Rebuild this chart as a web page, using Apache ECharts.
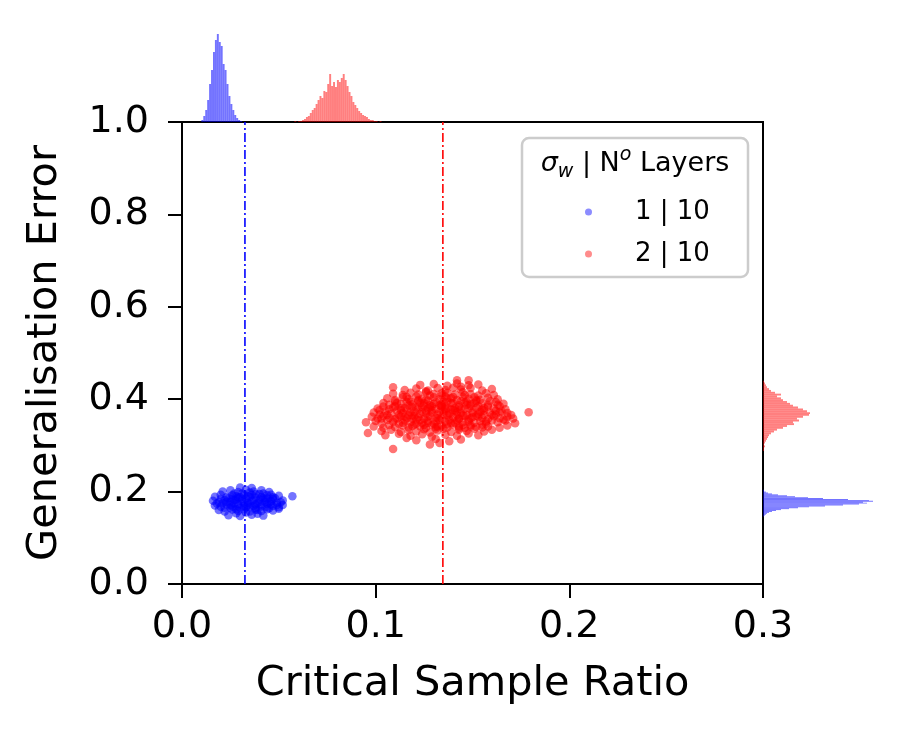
<!DOCTYPE html>
<html>
<head>
<meta charset="utf-8">
<script src="https://cdn.jsdelivr.net/npm/echarts@6/dist/echarts.min.js"></script>
<style>html,body{margin:0;padding:0;background:#fff}#c{width:909px;height:740px}</style>
</head>
<body>
<div id="c"></div>
<script>
// ---------- data ----------
const seriesNames = ['1 | 10', '2 | 10'];
const xTicks = [0.0, 0.1, 0.2, 0.3];
const yTicks = [0.0, 0.2, 0.4, 0.6, 0.8, 1.0];
const critLines = [0.0325, 0.1347];   // vertical dash-dot lines (blue, red)

const bluePts = [
[0.024,0.149],[0.030,0.147],[0.036,0.150],[0.042,0.148],[0.028,0.153],[0.039,0.152],
[0.019,0.160],[0.022,0.157],[0.026,0.161],[0.029,0.158],[0.032,0.162],[0.035,0.157],[0.038,0.161],[0.041,0.158],[0.044,0.162],[0.047,0.159],[0.050,0.163],
[0.017,0.170],[0.020,0.167],[0.023,0.172],[0.026,0.168],[0.029,0.173],[0.032,0.169],[0.035,0.166],[0.038,0.172],[0.041,0.168],[0.044,0.173],[0.047,0.169],[0.050,0.166],[0.052,0.171],
[0.016,0.180],[0.019,0.177],[0.022,0.182],[0.025,0.178],[0.028,0.183],[0.031,0.179],[0.034,0.176],[0.037,0.182],[0.040,0.178],[0.043,0.183],[0.046,0.179],[0.049,0.176],[0.052,0.181],
[0.017,0.189],[0.020,0.193],[0.023,0.188],[0.026,0.192],[0.029,0.187],[0.032,0.193],[0.035,0.189],[0.038,0.194],[0.041,0.188],[0.044,0.192],[0.047,0.188],[0.050,0.191],[0.057,0.190],
[0.021,0.200],[0.025,0.203],[0.029,0.199],[0.033,0.204],[0.037,0.200],[0.041,0.203],[0.045,0.199],
[0.030,0.209],[0.036,0.208],
[0.027,0.175],[0.033,0.185],[0.039,0.174],[0.030,0.165],[0.036,0.180],[0.042,0.186],[0.024,0.186],[0.045,0.176],[0.031,0.196],[0.038,0.165],
[0.034,0.171],[0.028,0.190],[0.040,0.195],[0.025,0.165],[0.047,0.184],[0.021,0.175],[0.033,0.155],[0.043,0.166],[0.035,0.198],[0.027,0.182],
[0.023,0.178],[0.026,0.185],[0.029,0.170],[0.031,0.184],[0.034,0.190],[0.037,0.169],[0.040,0.183],[0.043,0.178],[0.046,0.172],[0.048,0.186],
[0.022,0.165],[0.027,0.196],[0.032,0.176],[0.036,0.193],[0.039,0.160],[0.042,0.196],[0.045,0.164],[0.049,0.171],[0.020,0.184],[0.025,0.171],
[0.030,0.188],[0.035,0.174],[0.038,0.187],[0.041,0.172],[0.044,0.185],[0.033,0.166],[0.028,0.162],[0.046,0.193],[0.018,0.174],[0.051,0.177]
];

const redPts = [
[0.109,0.292],[0.128,0.302],[0.133,0.305],
[0.121,0.311],[0.138,0.309],[0.144,0.313],[0.116,0.316],[0.131,0.314],
[0.105,0.322],[0.112,0.325],[0.118,0.321],[0.124,0.324],[0.129,0.319],[0.136,0.323],[0.142,0.321],[0.148,0.326],[0.153,0.322],
[0.096,0.327],[0.103,0.331],[0.108,0.334],[0.113,0.329],[0.117,0.333],[0.121,0.330],[0.125,0.335],[0.128,0.328],[0.132,0.332],[0.135,0.336],[0.139,0.329],[0.143,0.334],[0.147,0.331],[0.151,0.336],[0.156,0.330],[0.160,0.334],
[0.099,0.341],[0.104,0.338],[0.107,0.344],[0.110,0.340],[0.114,0.343],[0.117,0.339],[0.120,0.345],[0.123,0.341],[0.126,0.338],[0.129,0.344],[0.131,0.340],[0.134,0.343],[0.137,0.339],[0.140,0.345],[0.143,0.341],[0.146,0.338],[0.149,0.344],[0.152,0.340],[0.155,0.345],[0.158,0.341],[0.164,0.338],[0.168,0.343],
[0.095,0.350],[0.100,0.353],[0.103,0.348],[0.106,0.355],[0.109,0.351],[0.112,0.347],[0.115,0.354],[0.118,0.350],[0.121,0.356],[0.124,0.349],[0.127,0.353],[0.130,0.347],[0.133,0.355],[0.136,0.351],[0.139,0.348],[0.142,0.354],[0.145,0.350],[0.148,0.356],[0.151,0.349],[0.154,0.353],[0.157,0.347],[0.160,0.354],[0.163,0.350],[0.166,0.356],[0.172,0.348],
[0.098,0.362],[0.101,0.358],[0.104,0.364],[0.107,0.360],[0.110,0.357],[0.113,0.363],[0.116,0.359],[0.119,0.365],[0.122,0.361],[0.125,0.357],[0.128,0.364],[0.131,0.360],[0.134,0.358],[0.137,0.365],[0.140,0.361],[0.143,0.357],[0.146,0.363],[0.149,0.359],[0.152,0.364],[0.155,0.360],[0.158,0.357],[0.161,0.363],[0.164,0.359],[0.168,0.362],[0.171,0.358],
[0.099,0.371],[0.102,0.367],[0.105,0.374],[0.108,0.369],[0.111,0.375],[0.114,0.370],[0.117,0.366],[0.120,0.373],[0.123,0.368],[0.126,0.375],[0.129,0.371],[0.132,0.367],[0.135,0.374],[0.138,0.369],[0.141,0.375],[0.144,0.370],[0.147,0.366],[0.150,0.373],[0.153,0.368],[0.156,0.375],[0.159,0.371],[0.162,0.367],[0.165,0.374],[0.168,0.370],[0.179,0.372],
[0.101,0.380],[0.104,0.384],[0.107,0.378],[0.110,0.385],[0.113,0.381],[0.116,0.377],[0.119,0.383],[0.122,0.379],[0.125,0.386],[0.128,0.382],[0.131,0.378],[0.134,0.385],[0.137,0.380],[0.140,0.376],[0.143,0.383],[0.146,0.379],[0.149,0.386],[0.152,0.381],[0.155,0.377],[0.158,0.384],[0.161,0.380],[0.164,0.385],[0.167,0.378],
[0.104,0.392],[0.107,0.388],[0.110,0.395],[0.113,0.390],[0.116,0.394],[0.119,0.389],[0.122,0.396],[0.125,0.391],[0.128,0.387],[0.131,0.394],[0.134,0.389],[0.137,0.395],[0.140,0.391],[0.143,0.387],[0.146,0.393],[0.149,0.389],[0.152,0.396],[0.155,0.391],[0.158,0.388],[0.162,0.394],[0.166,0.390],
[0.106,0.402],[0.110,0.398],[0.114,0.404],[0.117,0.400],[0.121,0.406],[0.124,0.401],[0.127,0.397],[0.130,0.404],[0.133,0.400],[0.136,0.406],[0.139,0.402],[0.142,0.398],[0.145,0.405],[0.148,0.401],[0.151,0.404],[0.154,0.399],[0.158,0.403],[0.163,0.400],
[0.109,0.412],[0.114,0.409],[0.118,0.414],[0.122,0.410],[0.126,0.415],[0.130,0.411],[0.134,0.408],[0.137,0.414],[0.141,0.410],[0.145,0.415],[0.149,0.411],[0.153,0.408],[0.157,0.413],[0.161,0.409],
[0.109,0.426],[0.115,0.420],[0.121,0.423],[0.127,0.419],[0.132,0.424],[0.136,0.420],[0.140,0.425],[0.144,0.421],[0.149,0.424],[0.155,0.419],[0.160,0.422],
[0.123,0.431],[0.130,0.433],[0.137,0.429],[0.142,0.434],[0.148,0.430],[0.153,0.432],
[0.142,0.441],[0.148,0.441],
[0.118,0.372],[0.124,0.383],[0.131,0.352],[0.136,0.378],[0.142,0.366],[0.147,0.388],[0.127,0.361],[0.139,0.392],[0.145,0.344],[0.121,0.347],
[0.133,0.387],[0.150,0.370],[0.115,0.381],[0.126,0.399],[0.138,0.355],[0.153,0.362],[0.129,0.376],[0.141,0.381],[0.119,0.358],[0.135,0.368],
[0.144,0.396],[0.148,0.352],[0.123,0.392],[0.132,0.341],[0.156,0.381],[0.112,0.366],[0.137,0.402],[0.127,0.349],[0.143,0.359],[0.134,0.384],
[0.111,0.358],[0.114,0.349],[0.117,0.387],[0.120,0.364],[0.123,0.355],[0.126,0.369],[0.129,0.385],[0.132,0.359],[0.135,0.395],[0.138,0.362],
[0.141,0.349],[0.144,0.378],[0.147,0.395],[0.150,0.361],[0.153,0.385],[0.156,0.366],[0.159,0.396],[0.162,0.375],[0.116,0.405],[0.122,0.398],
[0.128,0.408],[0.134,0.413],[0.140,0.405],[0.146,0.409],[0.152,0.399],[0.119,0.342],[0.125,0.344],[0.131,0.336],[0.137,0.346],[0.143,0.337],
[0.149,0.341],[0.155,0.339],[0.113,0.376],[0.109,0.382],[0.106,0.366],[0.160,0.366],[0.164,0.372],[0.157,0.352],[0.118,0.395],[0.124,0.373],
[0.130,0.390],[0.136,0.385],[0.142,0.372],[0.148,0.380],[0.154,0.373],[0.127,0.380],[0.133,0.373],[0.139,0.378],[0.145,0.365],[0.151,0.392],
[0.121,0.382],[0.115,0.362],[0.111,0.392],[0.163,0.388],[0.167,0.354],[0.103,0.358],[0.102,0.376],[0.170,0.366],[0.126,0.417],[0.144,0.427]
];

// marginal histograms (top: over x; right: over y) — bin start, bin end, count
const topBlueStart = [0.010,0.011,0.012,0.013,0.014,0.015,0.016,0.017,0.018,0.019,0.020,0.021,0.022,0.023,0.024,0.025,0.026,0.027,0.028,0.029,0.030];
const topBlueCount = [2,6,12,22,38,52,70,82,88,80,76,58,52,38,26,18,12,7,4,2,1];
const topRedStart = [0.058,0.059,0.060,0.061,0.062,0.063,0.064,0.065,0.066,0.067,0.068,0.069,0.070,0.071,0.072,0.073,0.074,0.075,0.076,0.077,0.078,0.079,0.080,0.081,0.082,0.083,0.084,0.085,0.086,0.087,0.088,0.089,0.090,0.091,0.092,0.093,0.094,0.095,0.096,0.097,0.098,0.099,0.100,0.101,0.102];
const topRedCount = [1,0,1,1,2,3,5,6,9,12,14,18,22,26,24,31,30,38,48,36,40,35,42,40,44,48,42,36,30,26,20,17,14,11,9,7,6,5,3,2,2,1,1,0,1];
const topBinWidth = 0.001;

const rightRedStart = [0.288,0.292,0.296,0.300,0.304,0.308,0.312,0.316,0.320,0.324,0.328,0.332,0.336,0.340,0.344,0.348,0.352,0.356,0.360,0.364,0.368,0.372,0.376,0.380,0.384,0.388,0.392,0.396,0.400,0.404,0.408,0.412,0.416,0.420,0.424,0.428,0.432,0.436];
const rightRedCount = [1,1,2,1,2,3,4,5,6,8,11,14,20,24,31,30,36,34,40,46,47,44,40,35,30,27,24,20,18,14,18,12,8,6,4,3,2,1];
const rightRedWidth = 0.004;
const rightBlueStart = [0.146,0.148,0.150,0.152,0.154,0.156,0.158,0.160,0.162,0.164,0.166,0.168,0.170,0.172,0.174,0.176,0.178,0.180,0.182,0.184,0.186,0.188,0.190,0.192,0.194,0.196,0.198,0.200,0.202];
const rightBlueCount = [1,2,3,4,6,9,13,18,26,35,46,62,80,96,104,100,110,106,85,60,45,32,24,15,9,5,3,1,1];
const rightBlueWidth = 0.002;

// ---------- build ----------
const FONT = 'DejaVu Sans';
const BLUE = '#0000ff', RED = '#ff0000';
const MAIN = {left:182, top:122, width:581, height:462};

function histData(starts, counts, w){ return starts.map((s,i)=>[s, s+w, counts[i]]); }

function vertHist(color){
  return function(params, api){
    const p0 = api.coord([api.value(0), 0]);
    const p1 = api.coord([api.value(1), api.value(2)]);
    return {type:'rect', shape:{x:p0[0], y:p1[1], width:Math.max(p1[0]-p0[0],0.8), height:p0[1]-p1[1]},
      style:{fill:color}};
  };
}
function horizHist(color){
  return function(params, api){
    const p0 = api.coord([0, api.value(0)]);
    const p1 = api.coord([api.value(2), api.value(1)]);
    return {type:'rect', shape:{x:p0[0], y:p1[1], width:p1[0]-p0[0], height:Math.max(p0[1]-p1[1],0.8)},
      style:{fill:color}};
  };
}

const chart = echarts.init(document.getElementById('c'), null, {renderer:'canvas'});

const hiddenAxis = {show:false};
const option = {
  animation:false,
  backgroundColor:'#ffffff',
  textStyle:{fontFamily:FONT},
  grid:[
    Object.assign({show:true, borderColor:'#000', borderWidth:2, backgroundColor:'transparent'}, MAIN),
    {left:182, width:581, top:32, height:90},
    {left:763, width:120, top:122, height:462}
  ],
  xAxis:[
    {gridIndex:0, type:'value', min:0, max:0.3, interval:0.1,
     name:'Critical Sample Ratio', nameLocation:'middle', nameGap:79,
     nameTextStyle:{fontSize:41.5, color:'#000', fontFamily:FONT},
     axisLine:{show:true, onZero:false, lineStyle:{color:'#000', width:2}},
     axisTick:{show:true, inside:false, length:14, lineStyle:{color:'#000', width:2}},
     axisLabel:{fontSize:38, color:'#000', margin:24, fontFamily:FONT, formatter:v=>xTicks.includes(+v.toFixed(1))? v.toFixed(1):''},
     splitLine:{show:false}},
    Object.assign({gridIndex:1, type:'value', min:0, max:0.3}, hiddenAxis),
    Object.assign({gridIndex:2, type:'value', min:0, max:120}, hiddenAxis)
  ],
  yAxis:[
    {gridIndex:0, type:'value', min:0, max:1, interval:0.2,
     name:'Generalisation Error', nameLocation:'middle', nameGap:116,
     nameTextStyle:{fontSize:41.5, color:'#000', fontFamily:FONT},
     axisLine:{show:true, onZero:false, lineStyle:{color:'#000', width:2}},
     axisTick:{show:true, inside:false, length:14, lineStyle:{color:'#000', width:2}},
     axisLabel:{fontSize:38, color:'#000', margin:33, fontFamily:FONT, formatter:v=>yTicks.includes(+v.toFixed(1))? v.toFixed(1):''},
     splitLine:{show:false}},
    Object.assign({gridIndex:1, type:'value', min:0, max:90}, hiddenAxis),
    Object.assign({gridIndex:2, type:'value', min:0, max:1}, hiddenAxis)
  ],
  legend:{
    orient:'vertical', left:580, top:194, itemGap:16, itemWidth:7, itemHeight:7, icon:'circle',
    data:seriesNames, selectedMode:false, z:12,
    itemStyle:{opacity:0.45},
    formatter:n=>'{p|'+n+'}',
    textStyle:{fontSize:26, color:'#000', fontFamily:FONT, rich:{p:{fontSize:26, fontFamily:FONT, padding:[0,0,0,38]}}}
  },
  graphic:[
    {type:'rect', z:10, shape:{x:522, y:138, width:226, height:139, r:7},
     style:{fill:'rgba(255,255,255,0.85)', stroke:'#cccccc', lineWidth:2.5}},
    {type:'text', z:11, x:635, y:164,
     style:{text:'{i|σ}{sub|w}{n| | N}{sup|o}{n| Layers}', align:'center', verticalAlign:'middle', fill:'#000',
       rich:{
         i:{fontSize:27, fontStyle:'italic', fontFamily:FONT, lineHeight:36, verticalAlign:'middle'},
         n:{fontSize:27, fontFamily:FONT, lineHeight:36, verticalAlign:'middle'},
         sub:{fontSize:19, fontStyle:'italic', fontFamily:FONT, lineHeight:36, verticalAlign:'bottom'},
         sup:{fontSize:19, fontStyle:'italic', fontFamily:FONT, lineHeight:36, verticalAlign:'top'}
       }}}
  ],
  series:[
    {name:seriesNames[0], type:'scatter', xAxisIndex:0, yAxisIndex:0, data:bluePts, symbol:'circle', symbolSize:8.5,
     itemStyle:{color:BLUE, opacity:0.55}, z:3},
    {name:seriesNames[1], type:'scatter', xAxisIndex:0, yAxisIndex:0, data:redPts, symbol:'circle', symbolSize:8.5,
     itemStyle:{color:RED, opacity:0.55}, z:3},
    {type:'line', xAxisIndex:0, yAxisIndex:0, data:[[critLines[0],0],[critLines[0],1]], symbol:'none', silent:true,
     lineStyle:{color:BLUE, width:1.6, type:[9,3,2,3]}, z:4},
    {type:'line', xAxisIndex:0, yAxisIndex:0, data:[[critLines[1],0],[critLines[1],1]], symbol:'none', silent:true,
     lineStyle:{color:RED, width:1.6, type:[9,3,2,3]}, z:4},
    {type:'custom', xAxisIndex:1, yAxisIndex:1, renderItem:vertHist('rgba(0,0,255,0.55)'), data:histData(topBlueStart, topBlueCount, topBinWidth)},
    {type:'custom', xAxisIndex:1, yAxisIndex:1, renderItem:vertHist('rgba(255,0,0,0.5)'), data:histData(topRedStart, topRedCount, topBinWidth)},
    {type:'custom', xAxisIndex:2, yAxisIndex:2, renderItem:horizHist('rgba(255,0,0,0.5)'), data:histData(rightRedStart, rightRedCount, rightRedWidth)},
    {type:'custom', xAxisIndex:2, yAxisIndex:2, renderItem:horizHist('rgba(0,0,255,0.55)'), data:histData(rightBlueStart, rightBlueCount, rightBlueWidth)}
  ]
};
chart.setOption(option);
</script>
</body>
</html>
